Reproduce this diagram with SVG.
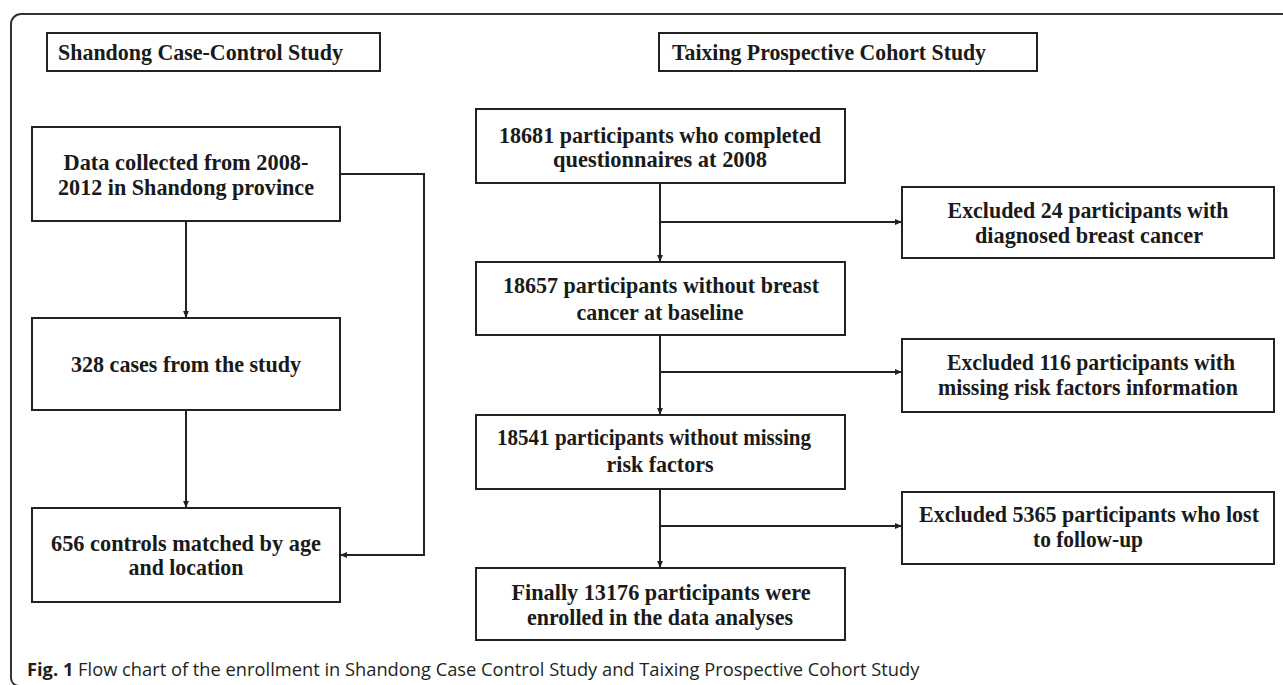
<svg xmlns="http://www.w3.org/2000/svg" width="1283" height="685" viewBox="0 0 1283 685">
<style>
.box{fill:#fff;stroke:#222;stroke-width:2}
.t{font-family:"Liberation Serif","Times New Roman",serif;font-weight:bold;font-size:22.5px;fill:#1a1a1a;text-anchor:middle}
.tl{font-family:"Liberation Serif","Times New Roman",serif;font-weight:bold;font-size:22.5px;fill:#1a1a1a}
.ln{fill:none;stroke:#222;stroke-width:2}
.cap{font-family:"Open Sans","Noto Sans",sans-serif;font-size:18.3px;fill:#231f20}
</style>
<defs>
<marker id="ah" viewBox="0 0 7 7" refX="7" refY="3.5" markerWidth="7" markerHeight="7" markerUnits="userSpaceOnUse" orient="auto">
<path d="M0,0.6 L7,3.5 L0,6.4 Z" fill="#222"/>
</marker>
</defs>
<rect width="1283" height="685" fill="#fff"/>
<path d="M1290 14 H21 A10 10 0 0 0 11 24 V678 A8 8 0 0 0 19 686" fill="none" stroke="#333" stroke-width="2"/>

<g id="connectors">
<path class="ln" d="M186 221 V318" marker-end="url(#ah)"/>
<path class="ln" d="M186 410 V508" marker-end="url(#ah)"/>
<path class="ln" d="M340 174 H424 V555 H340" marker-end="url(#ah)"/>
<path class="ln" d="M660 183 V262" marker-end="url(#ah)"/>
<path class="ln" d="M660 222 H902" marker-end="url(#ah)"/>
<path class="ln" d="M660 335 V415" marker-end="url(#ah)"/>
<path class="ln" d="M660 372 H902" marker-end="url(#ah)"/>
<path class="ln" d="M660 489 V568" marker-end="url(#ah)"/>
<path class="ln" d="M660 526 H902" marker-end="url(#ah)"/>
</g>

<g id="title-left">
<rect class="box" x="47" y="33" width="333" height="38"/>
<text class="tl" x="58" y="60" textLength="285" lengthAdjust="spacingAndGlyphs">Shandong Case-Control Study</text>
</g>
<g id="title-right">
<rect class="box" x="659" y="33" width="378" height="38"/>
<text class="tl" x="672" y="60" textLength="314" lengthAdjust="spacingAndGlyphs">Taixing Prospective Cohort Study</text>
</g>

<g id="n-data">
<rect class="box" x="32" y="127" width="308" height="94"/>
<text class="t" x="186" y="170" textLength="245" lengthAdjust="spacingAndGlyphs">Data collected from 2008-</text>
<text class="t" x="186" y="195" textLength="256" lengthAdjust="spacingAndGlyphs">2012 in Shandong province</text>
</g>
<g id="n-cases">
<rect class="box" x="32" y="318" width="308" height="92"/>
<text class="t" x="186" y="372" textLength="230" lengthAdjust="spacingAndGlyphs">328 cases from the study</text>
</g>
<g id="n-controls">
<rect class="box" x="32" y="508" width="308" height="94"/>
<text class="t" x="186" y="551" textLength="270" lengthAdjust="spacingAndGlyphs">656 controls matched by age</text>
<text class="t" x="186" y="575" textLength="115" lengthAdjust="spacingAndGlyphs">and location</text>
</g>

<g id="n-18681">
<rect class="box" x="476" y="109" width="369" height="74"/>
<text class="t" x="660" y="143" textLength="322" lengthAdjust="spacingAndGlyphs">18681 participants who completed</text>
<text class="t" x="660" y="167" textLength="214" lengthAdjust="spacingAndGlyphs">questionnaires at 2008</text>
</g>
<g id="n-18657">
<rect class="box" x="476" y="262" width="369" height="73"/>
<text class="t" x="661" y="293" textLength="316" lengthAdjust="spacingAndGlyphs">18657 participants without breast</text>
<text class="t" x="660" y="320" textLength="167" lengthAdjust="spacingAndGlyphs">cancer at baseline</text>
</g>
<g id="n-18541">
<rect class="box" x="476" y="415" width="369" height="74"/>
<text class="t" x="654" y="445" textLength="314" lengthAdjust="spacingAndGlyphs">18541 participants without missing</text>
<text class="t" x="660" y="472" textLength="107" lengthAdjust="spacingAndGlyphs">risk factors</text>
</g>
<g id="n-13176">
<rect class="box" x="476" y="568" width="369" height="72"/>
<text class="t" x="661" y="600" textLength="299" lengthAdjust="spacingAndGlyphs">Finally 13176 participants were</text>
<text class="t" x="660" y="625" textLength="266" lengthAdjust="spacingAndGlyphs">enrolled in the data analyses</text>
</g>

<g id="n-ex24">
<rect class="box" x="902" y="187" width="372" height="71"/>
<text class="t" x="1088" y="218" textLength="281" lengthAdjust="spacingAndGlyphs">Excluded 24 participants with</text>
<text class="t" x="1089" y="243" textLength="228" lengthAdjust="spacingAndGlyphs">diagnosed breast cancer</text>
</g>
<g id="n-ex116">
<rect class="box" x="902" y="339" width="372" height="73"/>
<text class="t" x="1091" y="370" textLength="288" lengthAdjust="spacingAndGlyphs">Excluded 116 participants with</text>
<text class="t" x="1088" y="395" textLength="300" lengthAdjust="spacingAndGlyphs">missing risk factors information</text>
</g>
<g id="n-ex5365">
<rect class="box" x="902" y="492" width="372" height="72"/>
<text class="t" x="1089" y="522" textLength="340" lengthAdjust="spacingAndGlyphs">Excluded 5365 participants who lost</text>
<text class="t" x="1088" y="547" textLength="110" lengthAdjust="spacingAndGlyphs">to follow-up</text>
</g>

<text class="cap" x="27" y="676"><tspan font-weight="bold">Fig. 1</tspan> Flow chart of the enrollment in Shandong Case Control Study and Taixing Prospective Cohort Study</text>
</svg>
